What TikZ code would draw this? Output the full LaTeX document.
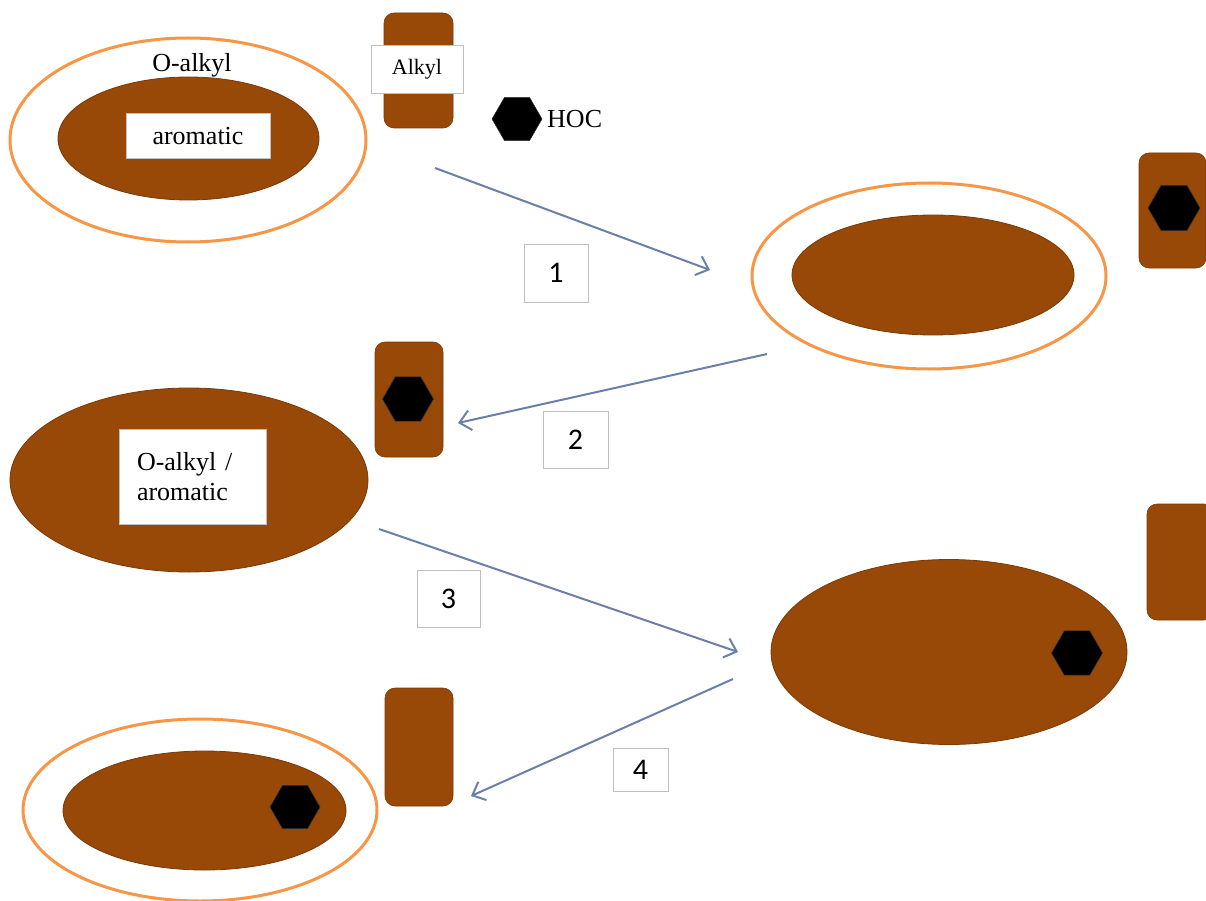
\documentclass[tikz,border=0pt]{standalone}
\usepackage{fontspec}
\setmainfont{Liberation Serif}
\newfontfamily\calib{Carlito}
\usetikzlibrary{shapes.geometric,arrows.meta}
\definecolor{soil}{HTML}{984807}
\definecolor{soiledge}{HTML}{7A3A08}
\definecolor{ring}{HTML}{F79646}
\definecolor{arrowc}{HTML}{6B7FA8}
\definecolor{boxedge}{HTML}{BFBFBF}
\tikzset{
  outerring/.style={ellipse, draw=ring, line width=3pt, fill=white, inner sep=0pt},
  core/.style={ellipse, draw=soiledge, line width=0.8pt, fill=soil, inner sep=0pt},
  alkylbar/.style={rounded corners=10pt, draw=soiledge, line width=0.6pt, fill=soil, inner sep=0pt},
  hoc/.style={regular polygon, regular polygon sides=6, fill=black, draw=black!80, line width=0.5pt, inner sep=0pt, outer sep=0pt},
  whitebox/.style={rectangle, draw=boxedge, line width=0.8pt, fill=white, inner sep=0pt},
  numbox/.style={rectangle, draw=boxedge, line width=1pt, fill=white, inner sep=0pt, font=\calib\fontsize{30}{34}\selectfont},
  lbl/.style={font=\fontsize{26}{30}\selectfont, inner sep=0pt},
  flow/.style={draw=arrowc, line width=2pt, -{Straight Barb[length=11pt,width=20pt,line width=2pt]}}
}
\begin{document}
\begin{tikzpicture}[x=1pt,y=-1pt]
\path[use as bounding box, fill=white] (0,0) rectangle (1206,901);

% ---- group 1 (top left)
\node[outerring, minimum width=356pt, minimum height=204pt] (o1) at (188,140) {};
\node[core, minimum width=261pt, minimum height=123pt] (c1) at (188.5,138.5) {};
\node[whitebox, minimum width=144pt, minimum height=45pt, lbl] (arom) at (198,136) {aromatic};
\node[lbl, anchor=base] (oalk) at (192,72) {O-alkyl};
\node[alkylbar, minimum width=69pt, minimum height=115pt] (r1) at (418.5,70.5) {};
\node[whitebox, minimum width=92pt, minimum height=48pt, font=\fontsize{22}{26}\selectfont] (alk) at (417,69) {Alkyl};
\node[hoc, minimum size=50pt] (h0) at (517,119) {};
\node[lbl, anchor=base west] (hoct) at (547,128) {HOC};

% ---- group 2 (top right)
\node[outerring, minimum width=354pt, minimum height=186pt] (o2) at (929,276) {};
\node[core, minimum width=282pt, minimum height=120pt] (c2) at (933,275) {};
\node[alkylbar, minimum width=67pt, minimum height=115pt] (r2) at (1172.5,210.5) {};
\node[hoc, minimum size=52pt] (h2) at (1174,208) {};

% ---- group 3 (middle left)
\node[core, minimum width=358pt, minimum height=184pt] (c3) at (189,480) {};
\node[whitebox, minimum width=147pt, minimum height=95pt, text width=111pt, align=left, inner xsep=18pt, font=\fontsize{26}{30}\selectfont] (mix) at (192.5,476.5) {O-alkyl /\\aromatic};
\node[alkylbar, minimum width=68pt, minimum height=115pt] (r3) at (409,399.5) {};
\node[hoc, minimum size=51pt] (h3) at (408,399) {};

% ---- group 4 (middle right)
\node[core, minimum width=356pt, minimum height=185pt] (c4) at (949,652) {};
\node[hoc, minimum size=51pt] (h4) at (1077,653) {};
\node[alkylbar, minimum width=67pt, minimum height=116pt] (r4) at (1180.5,562) {};

% ---- group 5 (bottom left)
\node[outerring, minimum width=354pt, minimum height=182pt] (o5) at (200,810) {};
\node[core, minimum width=283pt, minimum height=119pt] (c5) at (204.5,810.5) {};
\node[hoc, minimum size=50pt] (h5) at (295,807) {};
\node[alkylbar, minimum width=68pt, minimum height=118pt] (r5) at (419,747) {};

% ---- arrows
\coordinate (a1s) at (435,168);
\coordinate (a1e) at (710,270);
\coordinate (a2s) at (767,354);
\coordinate (a2e) at (458,423);
\coordinate (a3s) at (379,529);
\coordinate (a3e) at (738,652);
\coordinate (a4s) at (733,679);
\coordinate (a4e) at (471,796);
\draw[flow] (a1s) -- (a1e);
\draw[flow] (a2s) -- (a2e);
\draw[flow] (a3s) -- (a3e);
\draw[flow] (a4s) -- (a4e);

% ---- step numbers
\node[numbox, minimum width=64pt, minimum height=58pt] (n1) at (556,273) {1};
\node[numbox, minimum width=65pt, minimum height=57pt] (n2) at (575.5,439.5) {2};
\node[numbox, minimum width=63pt, minimum height=57pt] (n3) at (448.5,598.5) {3};
\node[numbox, minimum width=55pt, minimum height=43pt] (n4) at (640.5,770) {4};
\end{tikzpicture}
\end{document}
